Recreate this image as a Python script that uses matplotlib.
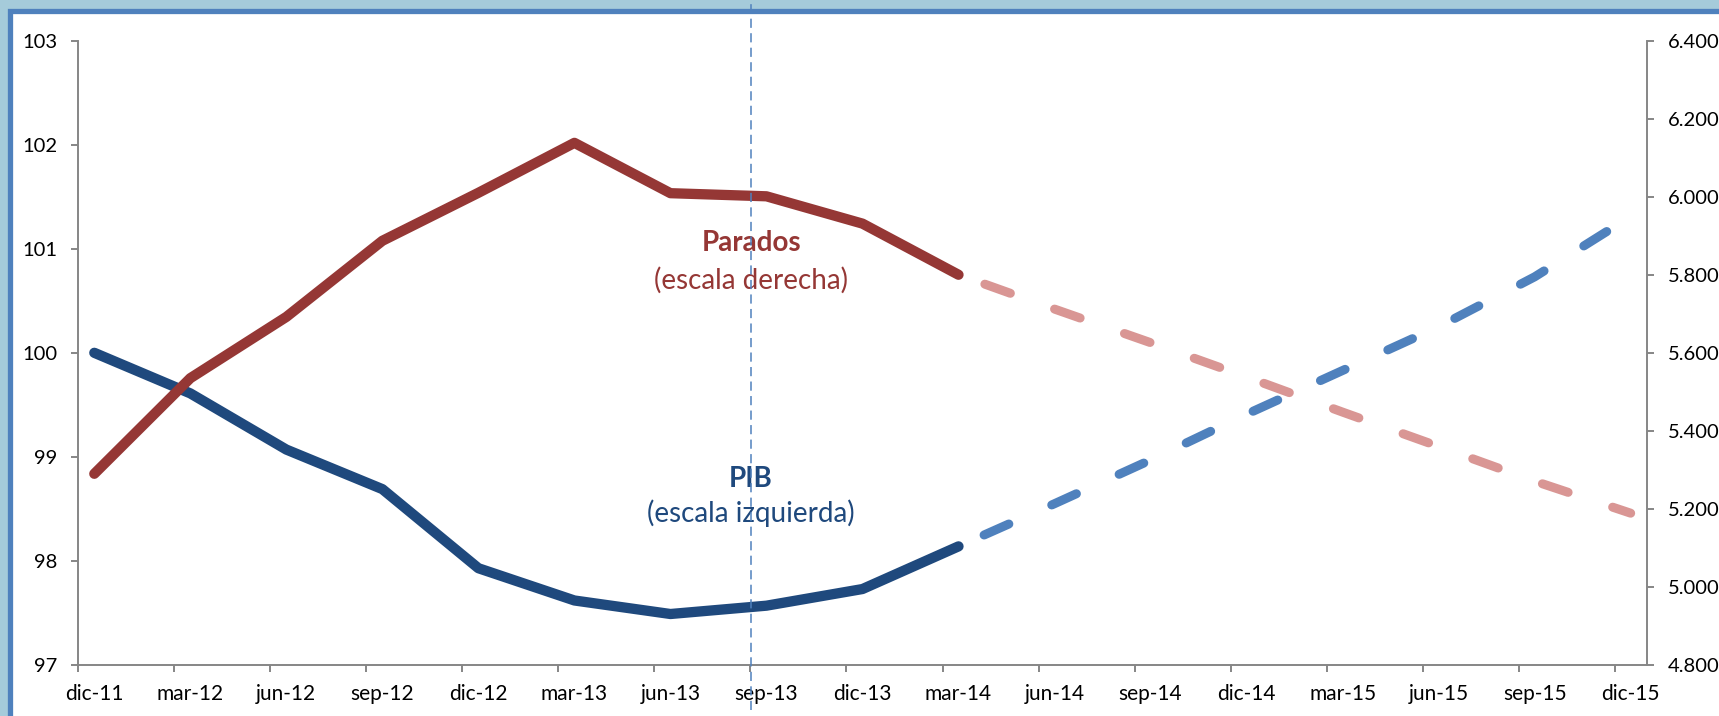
import numpy as np
import matplotlib.pyplot as plt
from matplotlib.patches import Rectangle
import matplotlib.transforms as mtransforms

plt.rcParams['font.family'] = ['Lato', 'DejaVu Sans']

# datos
fechas = ['dic-11', 'mar-12', 'jun-12', 'sep-12', 'dic-12', 'mar-13', 'jun-13',
          'sep-13', 'dic-13', 'mar-14', 'jun-14', 'sep-14', 'dic-14', 'mar-15',
          'jun-15', 'sep-15', 'dic-15']
pib_obs = [100.0, 99.61, 99.07, 98.69, 97.93, 97.62, 97.49, 97.57, 97.73, 98.14]
pib_prev = [98.14, 98.55, 98.97, 99.41, 99.83, 100.25, 100.73, 101.31]
parados_obs = [5290, 5535, 5692, 5887, 6010, 6138, 6009, 6001, 5931, 5800]
parados_prev = [5800, 5712, 5626, 5538, 5448, 5360, 5271, 5189]
izq_ticks = [97, 98, 99, 100, 101, 102, 103]
der_ticks = [4800, 5000, 5200, 5400, 5600, 5800, 6000, 6200, 6400]
der_labels = ['4.800', '5.000', '5.200', '5.400', '5.600', '5.800', '6.000', '6.200', '6.400']

W, H = 1719, 716
fig = plt.figure(figsize=(W / 100, H / 100), dpi=100, facecolor='#A5CBDA')

# marco del grafico (recortado)
fig.patches.append(Rectangle((9.5 / W, -0.2), 1.2, 1.2 - 10.8 / H,
                             transform=fig.transFigure, facecolor='white',
                             edgecolor='#4F81BD', linewidth=3.8, zorder=-10))

ax = fig.add_axes([78.3 / W, 1 - 665 / H, (1647 - 78.3) / W, (665 - 40.6) / H])
ax.patch.set_alpha(0)
ax2 = ax.twinx()

n_obs = len(pib_obs)
x_obs = np.arange(n_obs)
x_prev = np.arange(n_obs - 1, n_obs - 1 + len(pib_prev))
gris = '#868686'

ax.plot(x_obs, pib_obs, color='#1F497D', lw=7.4, solid_capstyle='round',
        solid_joinstyle='round', zorder=3)
ax.plot(x_prev, pib_prev, color='#4F81BD', lw=6.5,
        linestyle=(5.1, (3.0, 5.2)), dash_capstyle='round', zorder=3)
ax2.plot(x_obs, parados_obs, color='#953735', lw=7.4, solid_capstyle='round',
         solid_joinstyle='round', zorder=3)
ax2.plot(x_prev, parados_prev, color='#D99694', lw=6.5,
         linestyle=(5.1, (3.0, 5.2)), dash_capstyle='round', zorder=3)

ax.set_xlim(-1 / 6, len(fechas) - 1 + 0.17)
ax.set_ylim(97, 103)
ax2.set_ylim(4800, 6400)

ax.set_yticks(izq_ticks)
ax.set_yticklabels([str(t) for t in izq_ticks])
ax2.set_yticks(der_ticks)
ax2.set_yticklabels(der_labels)

ax.set_xticks(np.arange(len(fechas)))
ax.set_xticklabels(fechas)
ax.set_xticks(np.arange(len(fechas)) - 1 / 6, minor=True)
ax.tick_params(axis='x', which='major', length=0, pad=14, labelsize=15)
ax.tick_params(axis='x', which='minor', length=4.8, width=1.4, color=gris)
ax.tick_params(axis='y', length=4.8, width=1.4, color=gris, pad=10, labelsize=14.5)
ax2.tick_params(axis='y', length=4.8, width=1.4, color=gris, pad=10, labelsize=14.5)

for a in (ax, ax2):
    for s in a.spines.values():
        s.set_visible(False)
        s.set_color(gris)
        s.set_linewidth(1.4)
ax.spines['left'].set_visible(True)
ax.spines['bottom'].set_visible(True)
ax2.spines['right'].set_visible(True)

# linea vertical
trans = mtransforms.blended_transform_factory(ax2.transData, ax2.transAxes)
ax2.plot([6.84, 6.84], [-0.072, 1.07], transform=trans, color='#4F81BD',
         lw=1.1, linestyle=(0, (6, 3.5)), clip_on=False, zorder=10)

# rotulos
ax2.text(6.84, 5881, 'Parados', color='#953735',
         fontsize=20, fontweight='bold', ha='center', va='center', zorder=5)
ax2.text(6.84, 5786, '(escala derecha)', color='#953735', fontsize=20,
         ha='center', va='center', zorder=5)
ax2.text(6.84, 5277, 'PIB', color='#1F497D', fontsize=20, fontweight='bold',
         ha='center', va='center', zorder=5)
ax2.text(6.84, 5190, '(escala izquierda)', color='#1F497D', fontsize=20,
         ha='center', va='center', zorder=5)

fig.savefig('out.png', dpi=100, facecolor=fig.get_facecolor())
